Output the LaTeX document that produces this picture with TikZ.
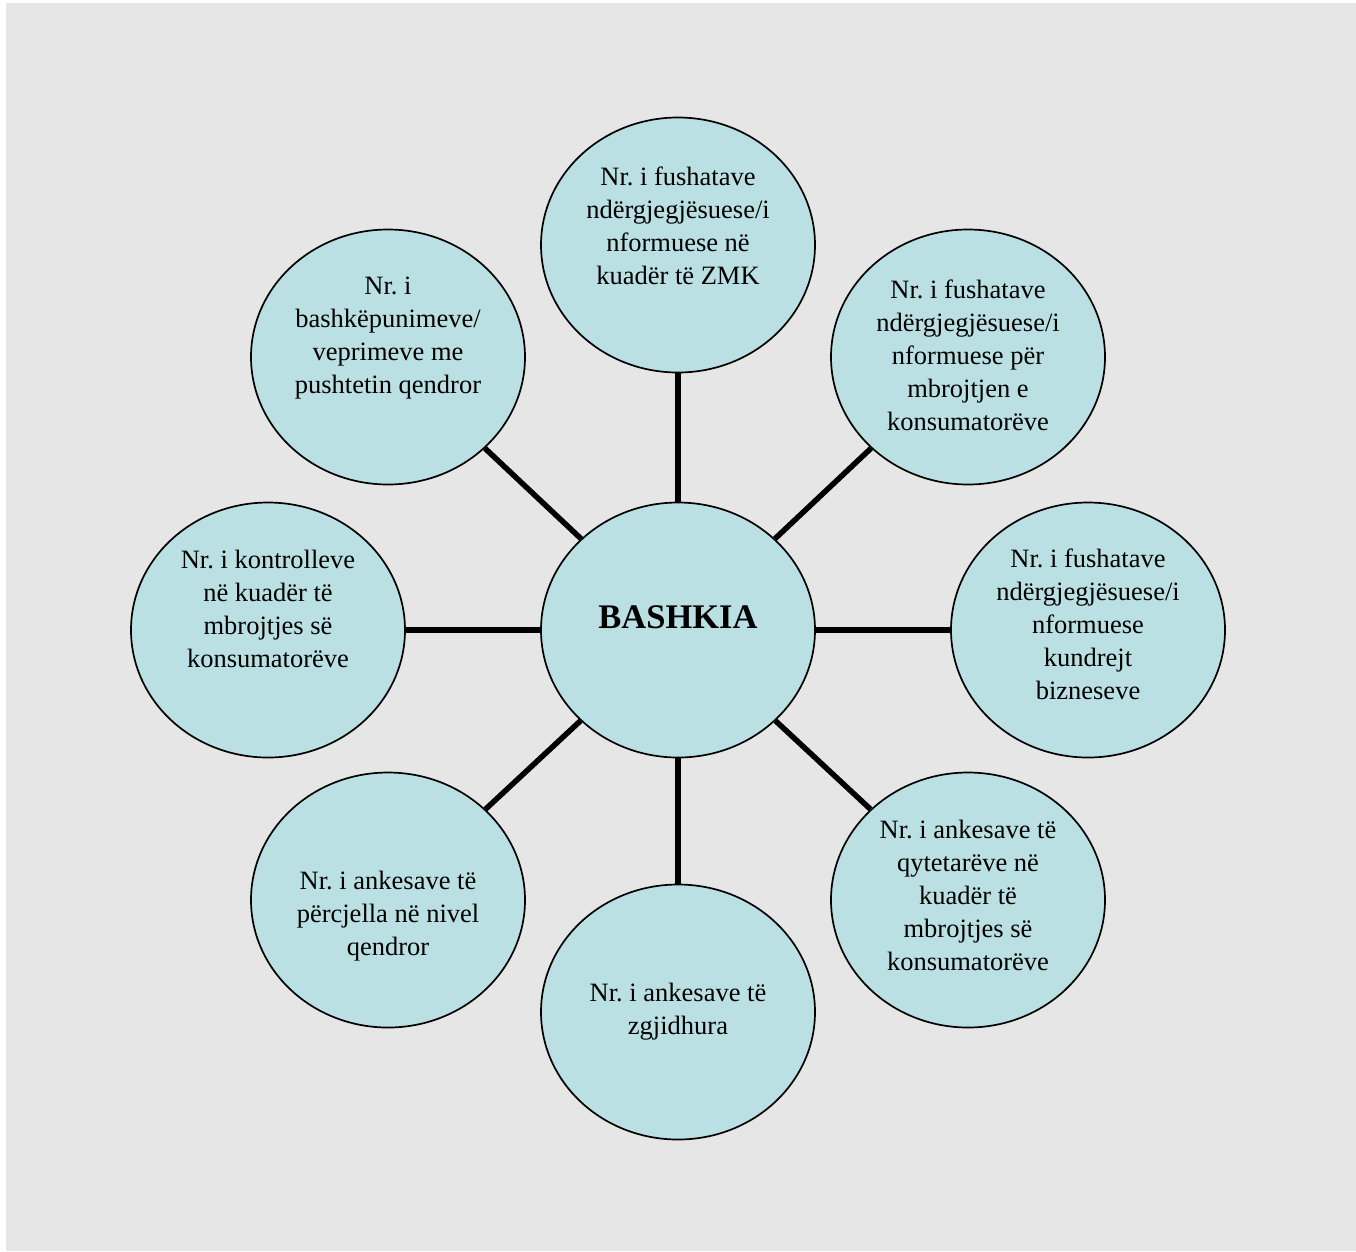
\documentclass[tikz,border=0pt]{standalone}
\usepackage{fontspec}
\setmainfont{Liberation Serif}
\usetikzlibrary{shapes.geometric}
\definecolor{pagegray}{HTML}{E6E6E6}
\definecolor{bubblefill}{HTML}{BAE0E3}
\frenchspacing
\begin{document}
\begin{tikzpicture}[x=1pt,y=-1pt,
  bubble/.style={ellipse, draw=black, line width=1.7pt, fill=bubblefill,
    minimum width=274pt, minimum height=255pt, inner sep=0pt},
  txt/.style={align=center, inner sep=0pt,
    font=\fontsize{26.5}{33}\selectfont},
  link/.style={line width=5.5pt, draw=black}]
% page and backdrop
\useasboundingbox (0,0) rectangle (1356,1251);
\fill[white] (0,0) rectangle (1356,1251);
\fill[pagegray] (6,3) rectangle (1356,1251);

% bubbles
\node[bubble] (c)  at (678,630)  {};
\node[bubble] (t)  at (678,245)  {};
\node[bubble] (ur) at (968,357)  {};
\node[bubble] (r)  at (1088,630) {};
\node[bubble] (lr) at (968,900)  {};
\node[bubble] (b)  at (678,1012) {};
\node[bubble] (ll) at (388,900)  {};
\node[bubble] (l)  at (268,630)  {};
\node[bubble] (ul) at (388,357)  {};

% spokes from the centre to each bubble
\foreach \n in {t,ur,r,lr,b,ll,l,ul}
  \draw[link] (c) -- (\n);

% texts
\node[font=\fontsize{34.5}{40}\selectfont\bfseries, inner sep=0pt] (tc) at (678,617) {BASHKIA};
\node[txt] (tt)  at (678,226)  {Nr. i fushatave\\ndërgjegjësuese/i\\nformuese në\\kuadër të ZMK};
\node[txt] (tur) at (968,355)  {Nr. i fushatave\\ndërgjegjësuese/i\\nformuese për\\mbrojtjen e\\konsumatorëve};
\node[txt] (tr)  at (1088,624) {Nr. i fushatave\\ndërgjegjësuese/i\\nformuese\\kundrejt\\bizneseve};
\node[txt] (tlr) at (968,895)  {Nr. i ankesave të\\qytetarëve në\\kuadër të\\mbrojtjes së\\konsumatorëve};
\node[txt] (tb)  at (678,1012) {Nr. i ankesave të\\zgjidhura};
\node[txt] (tll) at (388,916)  {Nr. i ankesave të\\përcjella në nivel\\qendror};
\node[txt] (tl)  at (268,609)  {Nr. i kontrolleve\\në kuadër të\\mbrojtjes së\\konsumatorëve};
\node[txt] (tul) at (388,338)  {Nr. i\\bashkëpunimeve/\\veprimeve me\\pushtetin qendror};
\end{tikzpicture}
\end{document}
